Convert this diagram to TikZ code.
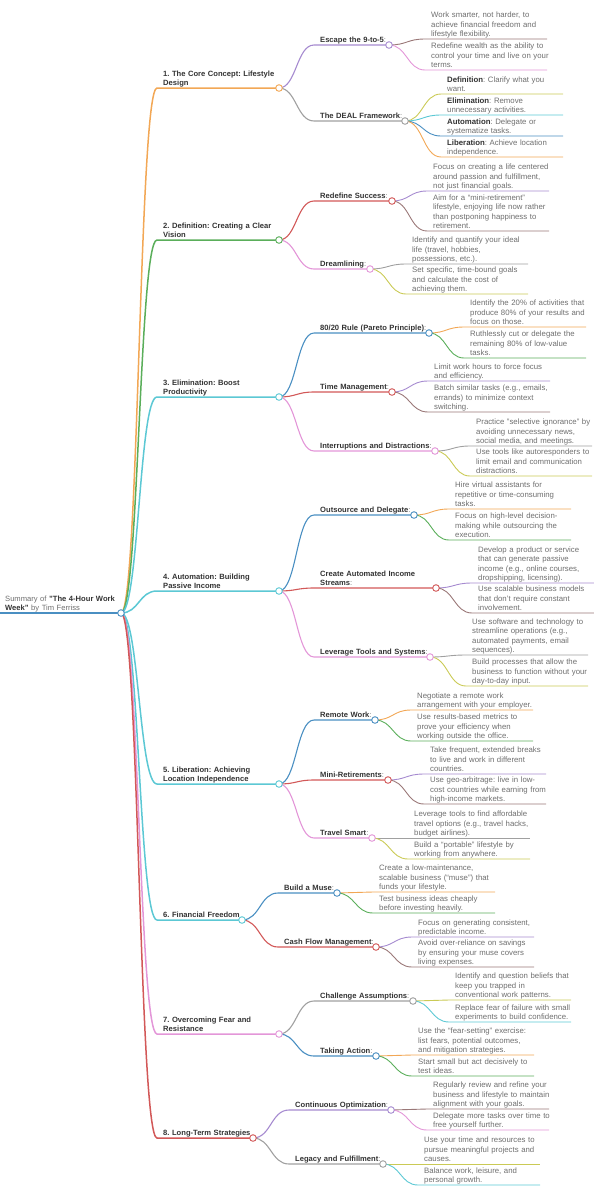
\documentclass[tikz,border=0pt]{standalone}
\usepackage{fontspec}
\setmainfont{Liberation Sans}
\usetikzlibrary{calc,backgrounds}
\definecolor{Ink}{HTML}{333333}
\definecolor{LeafInk}{HTML}{6E6E6E}
\definecolor{mmBlue}{HTML}{4A8FC2}
\definecolor{mmOrange}{HTML}{F2A755}
\definecolor{mmGreen}{HTML}{5AAE5A}
\definecolor{mmRed}{HTML}{D25858}
\definecolor{mmPurple}{HTML}{A68BD0}
\definecolor{mmBrown}{HTML}{9A7878}
\definecolor{mmPink}{HTML}{E396D8}
\definecolor{mmGrey}{HTML}{A0A0A0}
\definecolor{mmOlive}{HTML}{CACA55}
\definecolor{mmCyan}{HTML}{5CC8D4}
\tikzset{
  topic/.style={anchor=south west, align=left, text width=150pt, inner xsep=6pt, inner ysep=0pt,
    execute at end node={\rule[-2pt]{0pt}{2pt}},
    text=Ink, font=\frenchspacing\bfseries\fontsize{7.6}{9.4}\selectfont},
  root/.style={topic, text=LeafInk, inner xsep=5pt, font=\frenchspacing\fontsize{7.6}{9.4}\selectfont},
  leaf/.style={anchor=south west, align=left, text width=150pt, inner xsep=6pt, inner ysep=0pt,
    execute at end node={\rule[-2pt]{0pt}{2pt}},
    text=LeafInk, font=\frenchspacing\fontsize{7.8}{9.5}\selectfont},
  knob/.style={circle, draw=#1, fill=white, line width=0.9pt, minimum size=6.6pt, inner sep=0pt},
  main wire/.style={draw=#1, line width=1.5pt, line cap=round},
  sub wire/.style={draw=#1, line width=1.1pt},
  leaf wire/.style={draw=#1, line width=0.9pt},
  link/.style={to path={let \p1=(\tikztostart), \p2=(\tikztotarget) in
    .. controls ({0.5*\x1+0.5*\x2},\y1) and ({0.5*\x1+0.5*\x2},\y2) .. (\tikztotarget)}},
}
\newcommand{\subcolon}{{\mdseries\color{LeafInk}:}}
\newcommand{\term}[1]{\textbf{\color{Ink}#1}}
\newcommand{\leafspan}{122}

\begin{document}
\begin{tikzpicture}[x=1pt, y=-1pt]
  \useasboundingbox (0,0) rectangle (594,1200);

  % root and main topics
  \node[root] (rootTopic) at (0,613) {Summary of \term{"The 4-Hour Work}\\\term{Week"} by Tim Ferriss};
  \node[knob=mmBlue] (rootKnob) at (121,613) {};

  \node[topic] (coreTopic) at (157,88) {1. The Core Concept: Lifestyle\\Design};
  \node[knob=mmOrange] (coreKnob) at (279,88) {};
  \node[topic] (visionTopic) at (157,240) {2. Definition: Creating a Clear\\Vision};
  \node[knob=mmGreen] (visionKnob) at (279,240) {};
  \node[topic] (elimTopic) at (157,397) {3. Elimination: Boost\\Productivity};
  \node[knob=mmCyan] (elimKnob) at (279,397) {};
  \node[topic] (autoTopic) at (157,591) {4. Automation: Building\\Passive Income};
  \node[knob=mmCyan] (autoKnob) at (279,591) {};
  \node[topic] (libTopic) at (157,784) {5. Liberation: Achieving\\Location Independence};
  \node[knob=mmCyan] (libKnob) at (279,784) {};
  \node[topic] (financeTopic) at (157,920) {6. Financial Freedom};
  \node[knob=mmCyan] (financeKnob) at (242,920) {};
  \node[topic] (fearTopic) at (157,1034) {7. Overcoming Fear and\\Resistance};
  \node[knob=mmPink] (fearKnob) at (279,1034) {};
  \node[topic] (longTopic) at (157,1138) {8. Long-Term Strategies};
  \node[knob=mmRed] (longKnob) at (253,1138) {};

  % sub topics
  \node[topic] (escapeSub) at (314,45) {Escape the 9-to-5\subcolon};
  \node[knob=mmPurple] (escapeKnob) at (389,45) {};
  \node[topic] (dealSub) at (314,121) {The DEAL Framework\subcolon};
  \node[knob=mmGrey] (dealKnob) at (405,121) {};
  \node[topic] (successSub) at (314,201) {Redefine Success\subcolon};
  \node[knob=mmRed] (successKnob) at (392,201) {};
  \node[topic] (dreamSub) at (314,269) {Dreamlining\subcolon};
  \node[knob=mmPink] (dreamKnob) at (370,269) {};
  \node[topic] (paretoSub) at (314,333) {80/20 Rule (Pareto Principle)\subcolon};
  \node[knob=mmBlue] (paretoKnob) at (429,333) {};
  \node[topic] (timeSub) at (314,392) {Time Management\subcolon};
  \node[knob=mmRed] (timeKnob) at (392,392) {};
  \node[topic] (distractSub) at (314,451) {Interruptions and Distractions\subcolon};
  \node[knob=mmPink] (distractKnob) at (435,451) {};
  \node[topic] (outsourceSub) at (314,515) {Outsource and Delegate\subcolon};
  \node[knob=mmBlue] (outsourceKnob) at (414,515) {};
  \node[topic] (incomeSub) at (314,588) {Create Automated Income\\Streams\subcolon};
  \node[knob=mmRed] (incomeKnob) at (436,588) {};
  \node[topic] (toolsSub) at (314,657) {Leverage Tools and Systems\subcolon};
  \node[knob=mmPink] (toolsKnob) at (430,657) {};
  \node[topic] (remoteSub) at (314,720) {Remote Work\subcolon};
  \node[knob=mmBlue] (remoteKnob) at (375,720) {};
  \node[topic] (miniSub) at (314,780) {Mini-Retirements\subcolon};
  \node[knob=mmRed] (miniKnob) at (388,780) {};
  \node[topic] (travelSub) at (314,838) {Travel Smart\subcolon};
  \node[knob=mmPink] (travelKnob) at (372,838) {};
  \node[topic] (museSub) at (278,893) {Build a Muse\subcolon};
  \node[knob=mmBlue] (museKnob) at (337,893) {};
  \node[topic] (cashSub) at (278,947) {Cash Flow Management\subcolon};
  \node[knob=mmRed] (cashKnob) at (376,947) {};
  \node[topic] (challengeSub) at (314,1001) {Challenge Assumptions\subcolon};
  \node[knob=mmGrey] (challengeKnob) at (413,1001) {};
  \node[topic] (actionSub) at (314,1056) {Taking Action\subcolon};
  \node[knob=mmBlue] (actionKnob) at (376,1056) {};
  \node[topic] (optimSub) at (289,1110) {Continuous Optimization\subcolon};
  \node[knob=mmPurple] (optimKnob) at (391,1110) {};
  \node[topic] (legacySub) at (289,1164) {Legacy and Fulfillment\subcolon};
  \node[knob=mmGrey] (legacyKnob) at (383,1164) {};

  % leaves
  \node[leaf] (escapeLeafA) at (425,39) {Work smarter, not harder, to\\achieve financial freedom and\\lifestyle flexibility.};
  \node[leaf] (escapeLeafB) at (425,70) {Redefine wealth as the ability to\\control your time and live on your\\terms.};
  \node[leaf] (dealLeafA) at (441,94) {\term{Definition}: Clarify what you\\want.};
  \node[leaf] (dealLeafB) at (441,115) {\term{Elimination}: Remove\\unnecessary activities.};
  \node[leaf] (dealLeafC) at (441,136) {\term{Automation}: Delegate or\\systematize tasks.};
  \node[leaf] (dealLeafD) at (441,157) {\term{Liberation}: Achieve location\\independence.};
  \node[leaf] (successLeafA) at (427,191) {Focus on creating a life centered\\around passion and fulfillment,\\not just financial goals.};
  \node[leaf] (successLeafB) at (427,231) {Aim for a “mini-retirement”\\lifestyle, enjoying life now rather\\than postponing happiness to\\retirement.};
  \node[leaf] (dreamLeafA) at (406,264) {Identify and quantify your ideal\\life (travel, hobbies,\\possessions, etc.).};
  \node[leaf] (dreamLeafB) at (406,294) {Set specific, time-bound goals\\and calculate the cost of\\achieving them.};
  \node[leaf] (paretoLeafA) at (464,327) {Identify the 20\% of activities that\\produce 80\% of your results and\\focus on those.};
  \node[leaf] (paretoLeafB) at (464,358) {Ruthlessly cut or delegate the\\remaining 80\% of low-value\\tasks.};
  \node[leaf] (timeLeafA) at (428,381) {Limit work hours to force focus\\and efficiency.};
  \node[leaf] (timeLeafB) at (428,412) {Batch similar tasks (e.g., emails,\\errands) to minimize context\\switching.};
  \node[leaf] (distractLeafA) at (470,446) {Practice "selective ignorance" by\\avoiding unnecessary news,\\social media, and meetings.};
  \node[leaf] (distractLeafB) at (470,476) {Use tools like autoresponders to\\limit email and communication\\distractions.};
  \node[leaf] (outsourceLeafA) at (449,509) {Hire virtual assistants for\\repetitive or time-consuming\\tasks.};
  \node[leaf] (outsourceLeafB) at (449,540) {Focus on high-level decision-\\making while outsourcing the\\execution.};
  \node[leaf] (incomeLeafA) at (472,583) {Develop a product or service\\that can generate passive\\income (e.g., online courses,\\dropshipping, licensing).};
  \node[leaf] (incomeLeafB) at (472,613) {Use scalable business models\\that don't require constant\\involvement.};
  \node[leaf] (toolsLeafA) at (466,655) {Use software and technology to\\streamline operations (e.g.,\\automated payments, email\\sequences).};
  \node[leaf] (toolsLeafB) at (466,686) {Build processes that allow the\\business to function without your\\day-to-day input.};
  \node[leaf] (remoteLeafA) at (411,710) {Negotiate a remote work\\arrangement with your employer.};
  \node[leaf] (remoteLeafB) at (411,741) {Use results-based metrics to\\prove your efficiency when\\working outside the office.};
  \node[leaf] (miniLeafA) at (424,774) {Take frequent, extended breaks\\to live and work in different\\countries.};
  \node[leaf] (miniLeafB) at (424,804) {Use geo-arbitrage: live in low-\\cost countries while earning from\\high-income markets.};
  \node[leaf] (travelLeafA) at (408,838) {Leverage tools to find affordable\\travel options (e.g., travel hacks,\\budget airlines).};
  \node[leaf] (travelLeafB) at (408,859) {Build a “portable” lifestyle by\\working from anywhere.};
  \node[leaf] (museLeafA) at (373,892) {Create a low-maintenance,\\scalable business (“muse”) that\\funds your lifestyle.};
  \node[leaf] (museLeafB) at (373,913) {Test business ideas cheaply\\before investing heavily.};
  \node[leaf] (cashLeafA) at (412,937) {Focus on generating consistent,\\predictable income.};
  \node[leaf] (cashLeafB) at (412,967) {Avoid over-reliance on savings\\by ensuring your muse covers\\living expenses.};
  \node[leaf] (challengeLeafA) at (449,1000) {Identify and question beliefs that\\keep you trapped in\\conventional work patterns.};
  \node[leaf] (challengeLeafB) at (449,1022) {Replace fear of failure with small\\experiments to build confidence.};
  \node[leaf] (actionLeafA) at (412,1055) {Use the “fear-setting” exercise:\\list fears, potential outcomes,\\and mitigation strategies.};
  \node[leaf] (actionLeafB) at (412,1076) {Start small but act decisively to\\test ideas.};
  \node[leaf] (optimLeafA) at (427,1109) {Regularly review and refine your\\business and lifestyle to maintain\\alignment with your goals.};
  \node[leaf] (optimLeafB) at (427,1130) {Delegate more tasks over time to\\free yourself further.};
  \node[leaf] (legacyLeafA) at (418,1164) {Use your time and resources to\\pursue meaningful projects and\\causes.};
  \node[leaf] (legacyLeafB) at (418,1185) {Balance work, leisure, and\\personal growth.};

  \begin{pgfonlayer}{background}
    % root to main topics
    \draw[main wire=mmBlue] (rootTopic.south west) -- (rootKnob.center);
    \draw[main wire=mmOrange] (rootKnob.center) to[link] (coreTopic.south west) -- (coreKnob.center);
    \draw[main wire=mmGreen] (rootKnob.center) to[link] (visionTopic.south west) -- (visionKnob.center);
    \draw[main wire=mmCyan] (rootKnob.center) to[link] (elimTopic.south west) -- (elimKnob.center);
    \draw[main wire=mmCyan] (rootKnob.center) to[link] (autoTopic.south west) -- (autoKnob.center);
    \draw[main wire=mmCyan] (rootKnob.center) to[link] (libTopic.south west) -- (libKnob.center);
    \draw[main wire=mmCyan] (rootKnob.center) to[link] (financeTopic.south west) -- (financeKnob.center);
    \draw[main wire=mmPink] (rootKnob.center) to[link] (fearTopic.south west) -- (fearKnob.center);
    \draw[main wire=mmRed] (rootKnob.center) to[link] (longTopic.south west) -- (longKnob.center);

    % main topics to sub topics
    \draw[sub wire=mmPurple] (coreKnob.center) to[link] (escapeSub.south west) -- (escapeKnob.center);
    \draw[sub wire=mmGrey] (coreKnob.center) to[link] (dealSub.south west) -- (dealKnob.center);
    \draw[sub wire=mmRed] (visionKnob.center) to[link] (successSub.south west) -- (successKnob.center);
    \draw[sub wire=mmPink] (visionKnob.center) to[link] (dreamSub.south west) -- (dreamKnob.center);
    \draw[sub wire=mmBlue] (elimKnob.center) to[link] (paretoSub.south west) -- (paretoKnob.center);
    \draw[sub wire=mmRed] (elimKnob.center) to[link] (timeSub.south west) -- (timeKnob.center);
    \draw[sub wire=mmPink] (elimKnob.center) to[link] (distractSub.south west) -- (distractKnob.center);
    \draw[sub wire=mmBlue] (autoKnob.center) to[link] (outsourceSub.south west) -- (outsourceKnob.center);
    \draw[sub wire=mmRed] (autoKnob.center) to[link] (incomeSub.south west) -- (incomeKnob.center);
    \draw[sub wire=mmPink] (autoKnob.center) to[link] (toolsSub.south west) -- (toolsKnob.center);
    \draw[sub wire=mmBlue] (libKnob.center) to[link] (remoteSub.south west) -- (remoteKnob.center);
    \draw[sub wire=mmRed] (libKnob.center) to[link] (miniSub.south west) -- (miniKnob.center);
    \draw[sub wire=mmPink] (libKnob.center) to[link] (travelSub.south west) -- (travelKnob.center);
    \draw[sub wire=mmBlue] (financeKnob.center) to[link] (museSub.south west) -- (museKnob.center);
    \draw[sub wire=mmRed] (financeKnob.center) to[link] (cashSub.south west) -- (cashKnob.center);
    \draw[sub wire=mmGrey] (fearKnob.center) to[link] (challengeSub.south west) -- (challengeKnob.center);
    \draw[sub wire=mmBlue] (fearKnob.center) to[link] (actionSub.south west) -- (actionKnob.center);
    \draw[sub wire=mmPurple] (longKnob.center) to[link] (optimSub.south west) -- (optimKnob.center);
    \draw[sub wire=mmGrey] (longKnob.center) to[link] (legacySub.south west) -- (legacyKnob.center);

    % sub topics to leaves
    \draw[leaf wire=mmBrown] (escapeKnob.center) to[link] (escapeLeafA.south west) -- ++(\leafspan,0);
    \draw[leaf wire=mmPink] (escapeKnob.center) to[link] (escapeLeafB.south west) -- ++(\leafspan,0);
    \draw[leaf wire=mmOlive] (dealKnob.center) to[link] (dealLeafA.south west) -- ++(\leafspan,0);
    \draw[leaf wire=mmCyan] (dealKnob.center) to[link] (dealLeafB.south west) -- ++(\leafspan,0);
    \draw[leaf wire=mmBlue] (dealKnob.center) to[link] (dealLeafC.south west) -- ++(\leafspan,0);
    \draw[leaf wire=mmOrange] (dealKnob.center) to[link] (dealLeafD.south west) -- ++(\leafspan,0);
    \draw[leaf wire=mmPurple] (successKnob.center) to[link] (successLeafA.south west) -- ++(\leafspan,0);
    \draw[leaf wire=mmBrown] (successKnob.center) to[link] (successLeafB.south west) -- ++(\leafspan,0);
    \draw[leaf wire=mmGrey] (dreamKnob.center) to[link] (dreamLeafA.south west) -- ++(\leafspan,0);
    \draw[leaf wire=mmOlive] (dreamKnob.center) to[link] (dreamLeafB.south west) -- ++(\leafspan,0);
    \draw[leaf wire=mmOrange] (paretoKnob.center) to[link] (paretoLeafA.south west) -- ++(\leafspan,0);
    \draw[leaf wire=mmGreen] (paretoKnob.center) to[link] (paretoLeafB.south west) -- ++(\leafspan,0);
    \draw[leaf wire=mmPurple] (timeKnob.center) to[link] (timeLeafA.south west) -- ++(\leafspan,0);
    \draw[leaf wire=mmBrown] (timeKnob.center) to[link] (timeLeafB.south west) -- ++(\leafspan,0);
    \draw[leaf wire=mmGrey] (distractKnob.center) to[link] (distractLeafA.south west) -- ++(\leafspan,0);
    \draw[leaf wire=mmOlive] (distractKnob.center) to[link] (distractLeafB.south west) -- ++(\leafspan,0);
    \draw[leaf wire=mmOrange] (outsourceKnob.center) to[link] (outsourceLeafA.south west) -- ++(\leafspan,0);
    \draw[leaf wire=mmGreen] (outsourceKnob.center) to[link] (outsourceLeafB.south west) -- ++(\leafspan,0);
    \draw[leaf wire=mmPurple] (incomeKnob.center) to[link] (incomeLeafA.south west) -- ++(\leafspan,0);
    \draw[leaf wire=mmBrown] (incomeKnob.center) to[link] (incomeLeafB.south west) -- ++(\leafspan,0);
    \draw[leaf wire=mmGrey] (toolsKnob.center) to[link] (toolsLeafA.south west) -- ++(\leafspan,0);
    \draw[leaf wire=mmOlive] (toolsKnob.center) to[link] (toolsLeafB.south west) -- ++(\leafspan,0);
    \draw[leaf wire=mmOrange] (remoteKnob.center) to[link] (remoteLeafA.south west) -- ++(\leafspan,0);
    \draw[leaf wire=mmGreen] (remoteKnob.center) to[link] (remoteLeafB.south west) -- ++(\leafspan,0);
    \draw[leaf wire=mmPurple] (miniKnob.center) to[link] (miniLeafA.south west) -- ++(\leafspan,0);
    \draw[leaf wire=mmBrown] (miniKnob.center) to[link] (miniLeafB.south west) -- ++(\leafspan,0);
    \draw[leaf wire=mmGrey] (travelKnob.center) to[link] (travelLeafA.south west) -- ++(\leafspan,0);
    \draw[leaf wire=mmOlive] (travelKnob.center) to[link] (travelLeafB.south west) -- ++(\leafspan,0);
    \draw[leaf wire=mmOrange] (museKnob.center) to[link] (museLeafA.south west) -- ++(\leafspan,0);
    \draw[leaf wire=mmGreen] (museKnob.center) to[link] (museLeafB.south west) -- ++(\leafspan,0);
    \draw[leaf wire=mmPurple] (cashKnob.center) to[link] (cashLeafA.south west) -- ++(\leafspan,0);
    \draw[leaf wire=mmBrown] (cashKnob.center) to[link] (cashLeafB.south west) -- ++(\leafspan,0);
    \draw[leaf wire=mmOlive] (challengeKnob.center) to[link] (challengeLeafA.south west) -- ++(\leafspan,0);
    \draw[leaf wire=mmCyan] (challengeKnob.center) to[link] (challengeLeafB.south west) -- ++(\leafspan,0);
    \draw[leaf wire=mmOrange] (actionKnob.center) to[link] (actionLeafA.south west) -- ++(\leafspan,0);
    \draw[leaf wire=mmGreen] (actionKnob.center) to[link] (actionLeafB.south west) -- ++(\leafspan,0);
    \draw[leaf wire=mmBrown] (optimKnob.center) to[link] (optimLeafA.south west) -- ++(\leafspan,0);
    \draw[leaf wire=mmPink] (optimKnob.center) to[link] (optimLeafB.south west) -- ++(\leafspan,0);
    \draw[leaf wire=mmOlive] (legacyKnob.center) to[link] (legacyLeafA.south west) -- ++(\leafspan,0);
    \draw[leaf wire=mmCyan] (legacyKnob.center) to[link] (legacyLeafB.south west) -- ++(\leafspan,0);
  \end{pgfonlayer}
\end{tikzpicture}
\end{document}
